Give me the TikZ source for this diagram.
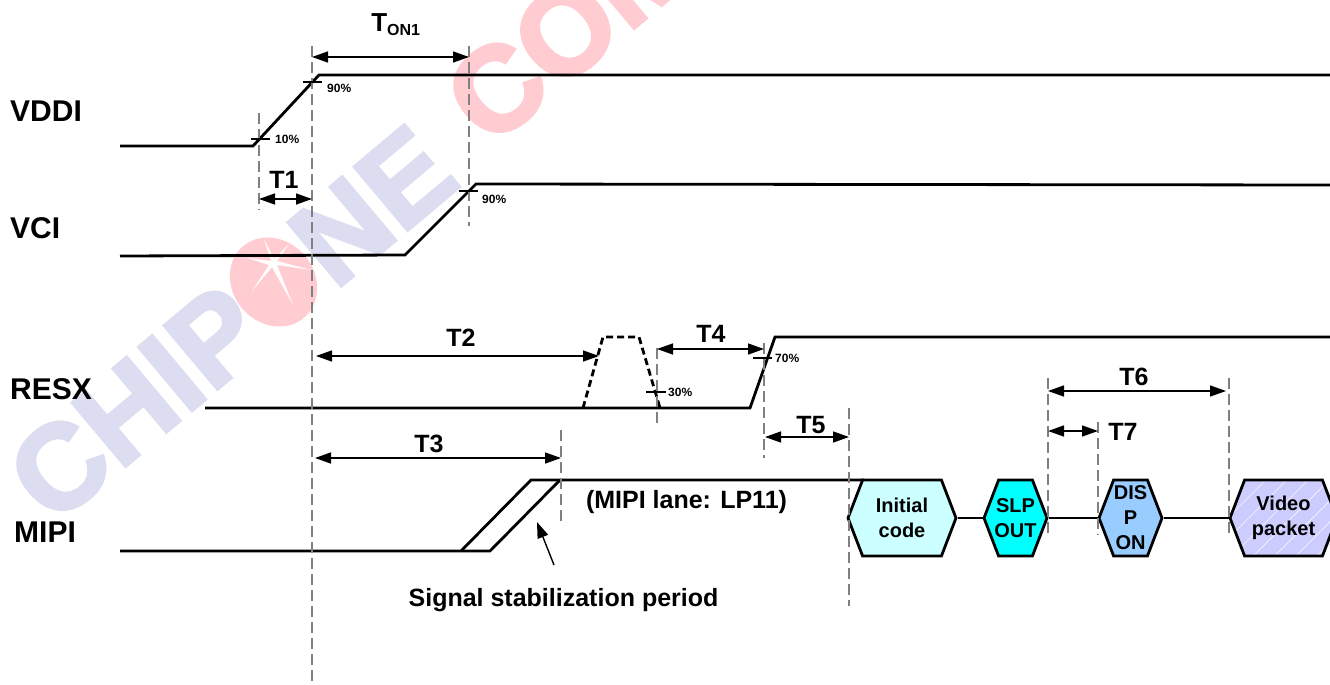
\documentclass[tikz,border=0pt]{standalone}
\usepackage{fontspec}
\setmainfont{Liberation Sans}
\newfontfamily\markfont[BoldFeatures={FakeBold=3}]{Liberation Sans}
\usetikzlibrary{arrows.meta,shapes.symbols,patterns.meta}

\definecolor{markblue}{HTML}{DDDDF1}
\definecolor{markred}{HTML}{FFCCD1}
\definecolor{guidegray}{HTML}{808080}
\definecolor{initfill}{HTML}{CCFFFF}
\definecolor{slpfill}{HTML}{00FFFF}
\definecolor{dispfill}{HTML}{99CCFF}
\definecolor{videofill}{HTML}{CCCCFF}

\newcommand{\pxfont}[2][1.2]{\fontsize{#2}{#1\dimexpr #2pt\relax}\selectfont\bfseries}

\tikzset{
    wave/.style={line width=2.8pt, line join=miter},
    guide/.style={guidegray, line width=1.4pt, dash pattern=on 11pt off 5pt},
    span/.style={line width=1.4pt, {Triangle[length=16pt,width=11pt]}-{Triangle[length=16pt,width=11pt]}},
    tickline/.style={line width=1.2pt},
    hexbox/.style={signal, signal to=west and east, signal pointer angle=138, draw, line width=2.8pt,
        minimum height=76pt, inner ysep=0pt, align=center, font=\pxfont[1.25]{20}},
    siglabel/.style={anchor=west, inner sep=0pt, font=\pxfont{30}},
    timelabel/.style={font=\pxfont{25}},
    pct/.style={anchor=west, inner sep=0pt, font=\pxfont{12}},
    markword/.style={anchor=base west, rotate=40, inner sep=0pt, font=\markfont\pxfont{120}}
}

\begin{document}
\begin{tikzpicture}[x=1pt,y=-1pt]
    \useasboundingbox (0,0) rectangle (1330,685);
    \clip (0,0) rectangle (1330,685);

    \node[markword, text=markblue] (chip) at (53,527) {CHIP};
    \node[markword, text=markblue] (ne) at (335,291) {NE};
    \node[markword, text=markred] (com) at (490,149) {COM};
    \fill[markred, rotate around={-49:(273.5,282)}] (273.5,282) ellipse (47 and 41);
    \fill[white] (264,239)--(274,259)--(289,244)--(277,261)--(311,270)--(277,265)--(293,305)--(272,267)
        --(252,291)--(269,265)--(248,258)--(271,261)--cycle;

    \coordinate (VddiA) at (120,146);
    \coordinate (VddiB) at (253,146);
    \coordinate (VddiC) at (319,75);
    \coordinate (VddiD) at (1330,75);
    \draw[wave] (VddiA)--(VddiB)--(VddiC)--(VddiD);

    \coordinate (VciA) at (120,256);
    \coordinate (VciB) at (405,255);
    \coordinate (VciC) at (476,184);
    \coordinate (VciD) at (1330,185);
    \draw[wave] (VciA)--(VciB)--(VciC)--(VciD);

    \coordinate (ResA) at (205,408);
    \coordinate (ResB) at (750,408);
    \coordinate (ResC) at (775,337);
    \coordinate (ResD) at (1330,337);
    \draw[wave] (ResA)--(ResB)--(ResC)--(ResD);

    \coordinate (PulseA) at (583,408);
    \coordinate (PulseB) at (603,337);
    \coordinate (PulseC) at (639,337);
    \coordinate (PulseD) at (660,408);
    \draw[wave, dash pattern=on 7pt off 4pt] (PulseA)--(PulseB)--(PulseC)--(PulseD);

    \coordinate (MipiA) at (120,551);
    \coordinate (MipiB) at (461,551);
    \coordinate (MipiC) at (490,551);
    \coordinate (MipiD) at (531,480);
    \coordinate (MipiE) at (560,480);
    \coordinate (MipiF) at (864,480);
    \draw[wave] (MipiA)--(MipiC)--(MipiE);
    \draw[wave] (MipiB)--(MipiD)--(MipiF);

    \node[hexbox, fill=initfill, minimum width=108pt] (init) at (902,518) {Initial\\code};
    \node[hexbox, fill=slpfill, minimum width=63pt, inner xsep=-8pt] (slp) at (1015.5,518) {SLP\\OUT};
    \node[hexbox, fill=dispfill, minimum width=63pt, inner xsep=0pt] (disp) at (1130.5,518) {DIS\\P\\ON};
    \node[hexbox, preaction={fill=videofill}, pattern={Lines[angle=45,distance=15pt,line width=0.8pt]},
        pattern color=white!70!videofill, minimum width=107pt] (video) at (1283.5,518) {Video\\packet};
    \draw[line width=2.4pt] (init.east)--(slp.west);
    \draw[wave] (slp.east)--(disp.west);
    \draw[line width=2.4pt] (disp.east)--(video.west);

    \coordinate (GaT) at (312,46);
    \coordinate (GaB) at (312,685);
    \coordinate (GbT) at (259,113);
    \coordinate (GbB) at (259,210);
    \coordinate (GcT) at (469,46);
    \coordinate (GcB) at (469,226);
    \coordinate (GdT) at (657,348);
    \coordinate (GdB) at (657,427);
    \coordinate (GeT) at (764,343);
    \coordinate (GeB) at (764,458);
    \coordinate (GfT) at (849,408);
    \coordinate (GfB) at (849,606);
    \coordinate (GgT) at (561,430);
    \coordinate (GgB) at (561,523);
    \coordinate (GhT) at (1048,378);
    \coordinate (GhB) at (1048,535);
    \coordinate (GiT) at (1098,422);
    \coordinate (GiB) at (1098,535);
    \coordinate (GjT) at (1229,378);
    \coordinate (GjB) at (1229,535);
    \draw[guide] (GaT)--(GaB);
    \draw[guide] (GbT)--(GbB);
    \draw[guide] (GcT)--(GcB);
    \draw[guide] (GdT)--(GdB);
    \draw[guide] (GeT)--(GeB);
    \draw[guide] (GfT)--(GfB);
    \draw[guide] (GgT)--(GgB);
    \draw[guide] (GhT)--(GhB);
    \draw[guide] (GiT)--(GiB);
    \draw[guide] (GjT)--(GjB);

    \coordinate (TonL) at (312,57);
    \coordinate (TonR) at (469,57);
    \coordinate (TaL) at (259,199);
    \coordinate (TaR) at (312,199);
    \coordinate (TbL) at (316,356);
    \coordinate (TbR) at (599,356);
    \coordinate (TcL) at (315,458);
    \coordinate (TcR) at (561,458);
    \coordinate (TdL) at (657,349);
    \coordinate (TdR) at (764,349);
    \coordinate (TeL) at (765,437);
    \coordinate (TeR) at (849,437);
    \coordinate (TfL) at (1048,391);
    \coordinate (TfR) at (1226,391);
    \coordinate (TgL) at (1048,431);
    \coordinate (TgR) at (1098,431);
    \draw[span] (TonL)--(TonR);
    \draw[span] (TaL)--(TaR);
    \draw[span] (TbL)--(TbR);
    \draw[span] (TcL)--(TcR);
    \draw[span] (TdL)--(TdR);
    \draw[span] (TeL)--(TeR);
    \draw[span] (TfL)--(TfR);
    \draw[span] (TgL)--(TgR);

    \coordinate (TickaL) at (251,139);
    \coordinate (TickaR) at (270,139);
    \coordinate (TickbL) at (303,82);
    \coordinate (TickbR) at (322,82);
    \coordinate (TickcL) at (459,191);
    \coordinate (TickcR) at (478,191);
    \coordinate (TickdL) at (646,392);
    \coordinate (TickdR) at (666,392);
    \coordinate (TickeL) at (753,358);
    \coordinate (TickeR) at (772,358);
    \draw[tickline] (TickaL)--(TickaR);
    \draw[tickline] (TickbL)--(TickbR);
    \draw[tickline] (TickcL)--(TickcR);
    \draw[tickline] (TickdL)--(TickdR);
    \draw[tickline] (TickeL)--(TickeR);

    \node[pct] (pa) at (275,139) {10\%};
    \node[pct] (pb) at (327,88) {90\%};
    \node[pct] (pc) at (482,199) {90\%};
    \node[pct] (pd) at (668,392) {30\%};
    \node[pct] (pe) at (775,358) {70\%};

    \node[siglabel] (vddi) at (10,111) {VDDI};
    \node[siglabel] (vci) at (10,228) {VCI};
    \node[siglabel] (resx) at (10,389) {RESX};
    \node[siglabel] (mipi) at (14,532) {MIPI};

    \node[timelabel, font=\pxfont{26}] (ton) at (396,25) {T\textsubscript{\pxfont{16}ON1}};
    \node[timelabel] (ta) at (284,180) {T1};
    \node[timelabel] (tb) at (461,338) {T2};
    \node[timelabel] (tc) at (429,444) {T3};
    \node[timelabel] (td) at (711,334) {T4};
    \node[timelabel] (te) at (811,425) {T5};
    \node[timelabel] (tf) at (1134,377) {T6};
    \node[timelabel] (tg) at (1123,432) {T7};

    \node[font=\pxfont{25}] (lane) at (686.5,502) {(MIPI lane: LP11)};
    \node[font=\pxfont{25}] (stab) at (563.5,600) {Signal stabilization period};
    \coordinate (StabA) at (554,565);
    \coordinate (StabB) at (537,522);
    \draw[line width=1.4pt, -{Triangle[length=16pt,width=11pt]}] (StabA)--(StabB);
\end{tikzpicture}
\end{document}
